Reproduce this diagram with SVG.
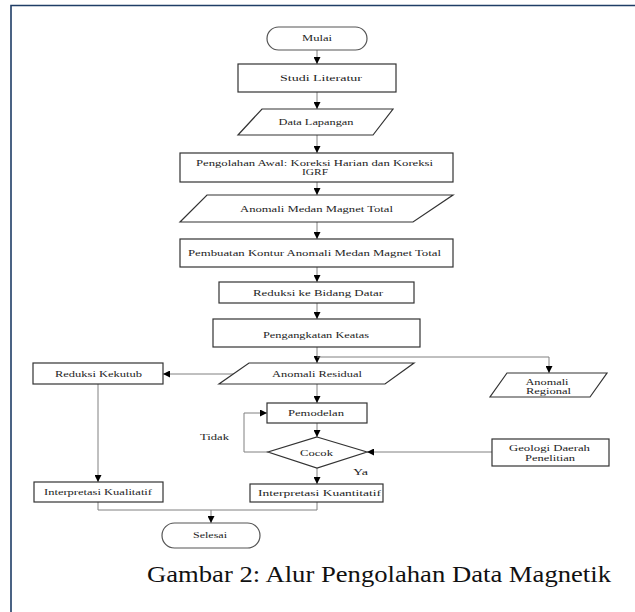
<svg xmlns="http://www.w3.org/2000/svg" width="635" height="612" viewBox="0 0 635 612">
<defs>
<marker id="ah" viewBox="0 0 10 10" refX="10" refY="5" markerWidth="7" markerHeight="7" markerUnits="userSpaceOnUse" orient="auto">
<path d="M0,0 L10,5 L0,10 z" fill="#000"/>
</marker>
<style>
.box{fill:#fff;stroke:#333;stroke-width:1.2}
.term{fill:#fff;stroke:#555;stroke-width:1.2}
.con{fill:none;stroke:#808080;stroke-width:1}
.arr{fill:none;stroke:#808080;stroke-width:1;marker-end:url(#ah)}
.t{font-family:'Liberation Serif','DejaVu Serif','Times New Roman',serif;font-size:9px;fill:#222;text-anchor:middle}
.s{font-size:8px}
.cap{font-family:'Liberation Serif','DejaVu Serif','Times New Roman',serif;font-size:23px;fill:#111}
</style>
</defs>
<rect width="635" height="612" fill="#fff"/>
<path d="M11,612 V5.5 H635" fill="none" stroke="#1f3d66" stroke-width="1.6"/>

<g id="connectors">
<line class="arr" x1="317" y1="50" x2="317" y2="64"/>
<line class="arr" x1="317" y1="92" x2="317" y2="109"/>
<line class="arr" x1="317" y1="135" x2="317" y2="153"/>
<line class="arr" x1="317" y1="182" x2="317" y2="195"/>
<line class="arr" x1="317" y1="222" x2="317" y2="239"/>
<line class="arr" x1="317" y1="267" x2="317" y2="282"/>
<line class="arr" x1="317" y1="303" x2="317" y2="319"/>
<line class="arr" x1="317" y1="347" x2="317" y2="363"/>
<polyline class="arr" points="317,357 549,357 549,373"/>
<line class="arr" x1="234" y1="374" x2="163" y2="374"/>
<line class="arr" x1="317" y1="384" x2="317" y2="403"/>
<line class="arr" x1="317" y1="423" x2="317" y2="437"/>
<polyline class="arr" points="268,452 244,452 244,413 267,413"/>
<line class="arr" x1="492" y1="452" x2="367" y2="452"/>
<line class="arr" x1="317" y1="468" x2="317" y2="484"/>
<line class="arr" x1="98" y1="384" x2="98" y2="482"/>
<polyline class="con" points="98,502 98,510 317,510 317,502"/>
<line class="arr" x1="211" y1="510" x2="211" y2="523"/>
</g>

<g id="mulai"><rect class="term" x="267" y="27" width="100" height="23" rx="11.5"/><text class="t" x="317" y="41" textLength="30" lengthAdjust="spacingAndGlyphs">Mulai</text></g>
<g id="studi"><rect class="box" x="238" y="64" width="158" height="28"/><text class="t" x="321" y="81" textLength="82" lengthAdjust="spacingAndGlyphs">Studi Literatur</text></g>
<g id="data"><polygon class="box" points="262,109 393,109 373,135 238,135"/><text class="t" x="316" y="125" textLength="75" lengthAdjust="spacingAndGlyphs">Data Lapangan</text></g>
<g id="pengolahan"><rect class="box" x="180" y="153" width="273" height="29"/><text class="t s" x="314.5" y="165.5" textLength="237" lengthAdjust="spacingAndGlyphs">Pengolahan Awal: Koreksi Harian dan Koreksi</text><text class="t s" x="315" y="175" textLength="26" lengthAdjust="spacingAndGlyphs">IGRF</text></g>
<g id="anomali-total"><polygon class="box" points="207,195 453,195 413,222 180,222"/><text class="t" x="316.5" y="212" textLength="153" lengthAdjust="spacingAndGlyphs">Anomali Medan Magnet Total</text></g>
<g id="kontur"><rect class="box" x="180" y="239" width="273" height="28"/><text class="t" x="314.5" y="256" textLength="253" lengthAdjust="spacingAndGlyphs">Pembuatan Kontur Anomali Medan Magnet Total</text></g>
<g id="reduksi-datar"><rect class="box" x="219" y="282" width="195" height="21"/><text class="t" x="318" y="296" textLength="130" lengthAdjust="spacingAndGlyphs">Reduksi ke Bidang Datar</text></g>
<g id="pengangkatan"><rect class="box" x="213" y="319" width="207" height="28"/><text class="t" x="316" y="338" textLength="106" lengthAdjust="spacingAndGlyphs">Pengangkatan Keatas</text></g>
<g id="residual"><polygon class="box" points="249,363 414,363 385,384 219,384"/><text class="t" x="317" y="377" textLength="90" lengthAdjust="spacingAndGlyphs">Anomali Residual</text></g>
<g id="regional"><polygon class="box" points="507,373 607,373 590,397 490,397"/><text class="t s" x="547" y="384.5" textLength="43" lengthAdjust="spacingAndGlyphs">Anomali</text><text class="t s" x="548.5" y="393.5" textLength="45" lengthAdjust="spacingAndGlyphs">Regional</text></g>
<g id="kekutub"><rect class="box" x="33" y="363" width="130" height="21"/><text class="t" x="98.5" y="377" textLength="87" lengthAdjust="spacingAndGlyphs">Reduksi Kekutub</text></g>
<g id="pemodelan"><rect class="box" x="267" y="403" width="100" height="20"/><text class="t" x="316" y="416" textLength="56" lengthAdjust="spacingAndGlyphs">Pemodelan</text></g>
<g id="cocok"><polygon class="box" points="317,437 367,452 317,468 268,452"/><text class="t" x="316.5" y="456" textLength="33" lengthAdjust="spacingAndGlyphs">Cocok</text></g>
<g id="geologi"><rect class="box" x="492" y="439" width="117" height="27"/><text class="t s" x="549.5" y="451" textLength="81" lengthAdjust="spacingAndGlyphs">Geologi Daerah</text><text class="t s" x="550" y="460.5" textLength="50" lengthAdjust="spacingAndGlyphs">Penelitian</text></g>
<g id="kualitatif"><rect class="box" x="34" y="482" width="129" height="20"/><text class="t" x="98" y="495" textLength="108" lengthAdjust="spacingAndGlyphs">Interpretasi Kualitatif</text></g>
<g id="kuantitatif"><rect class="box" x="250" y="484" width="133" height="18"/><text class="t" x="319.5" y="496" textLength="123" lengthAdjust="spacingAndGlyphs">Interpretasi Kuantitatif</text></g>
<g id="selesai"><rect class="term" x="162" y="523" width="98" height="25" rx="12.5"/><text class="t" x="210" y="538" textLength="34" lengthAdjust="spacingAndGlyphs">Selesai</text></g>
<g id="labels"><text class="t" x="214.5" y="440" textLength="29" lengthAdjust="spacingAndGlyphs">Tidak</text><text class="t" x="360.5" y="475" textLength="15" lengthAdjust="spacingAndGlyphs">Ya</text></g>

<text class="cap" x="147" y="582" textLength="464" lengthAdjust="spacingAndGlyphs">Gambar 2: Alur Pengolahan Data Magnetik</text>
</svg>
